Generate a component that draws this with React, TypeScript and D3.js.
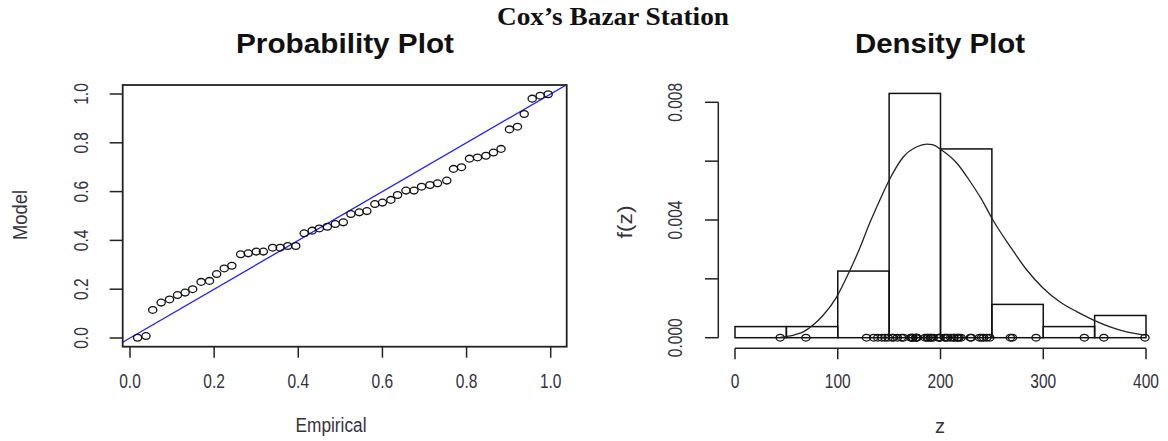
import React from "react";
import * as d3 from "d3";

// ---- data ----
const empirical = [0.018,0.038,0.054,0.074,0.094,0.113,0.131,0.149,0.169,0.189,0.206,0.224,0.242,0.263,0.281,0.300,0.317,0.339,0.357,0.375,0.394,0.414,0.433,0.450,0.469,0.488,0.507,0.525,0.545,0.563,0.582,0.600,0.620,0.636,0.656,0.675,0.693,0.713,0.731,0.753,0.769,0.788,0.807,0.826,0.846,0.864,0.882,0.902,0.921,0.937,0.956,0.975,0.994];
const model = [0.001,0.008,0.115,0.145,0.158,0.176,0.186,0.200,0.230,0.234,0.262,0.285,0.296,0.343,0.347,0.354,0.354,0.370,0.370,0.377,0.377,0.429,0.440,0.449,0.456,0.467,0.474,0.508,0.515,0.520,0.549,0.555,0.566,0.586,0.604,0.604,0.620,0.627,0.634,0.645,0.693,0.700,0.735,0.740,0.747,0.760,0.775,0.855,0.866,0.918,0.981,0.993,0.999];
const zData = [44,69,128,135,139,143,146,149,153,154,158,162,164,171,172,173,173,176,176,177,177,185,187,188,190,191,193,198,199,199.5,204,205,207,210,213,213,216,217,218,220,229,230,238,240,242,245,248,268,270,293,340,359,399];
const histBreaks = [0,50,100,150,200,250,300,350,400];
const densZ = [44,58,66.5,76,86,99,112,122,131,141,151,164,177,186.6,193,201,216,229,240,251,268,284,300,316,333,349,365,381,400];
const densF = [0.00001,0.0001,0.0002,0.00043,0.00077,0.00139,0.0023,0.00309,0.00389,0.00468,0.00542,0.00615,0.00649,0.00658,0.00655,0.00638,0.00593,0.0053,0.0047,0.004,0.00309,0.0023,0.00168,0.00122,0.00088,0.0006,0.00037,0.0002,0.00009];
const ppTicks = [0,0.2,0.4,0.6,0.8,1.0];
const densXTicks = [0,100,200,300,400];
const densYTicks = [0,0.002,0.004,0.006,0.008];
const densYLabels = [0,0.004,0.008];

const mainTitle = "Cox\u2019s Bazar Station";
const ppTitle = "Probability Plot";
const densTitle = "Density Plot";

const W = 1168, H = 441;
const LAB = "#34323f";
const SANS = "'Liberation Sans', Arial, sans-serif";

function T({ x, y, rot = 0, sx = 1, fs, text, fill = LAB, weight = "normal", family = SANS, anchor = "middle", len }: any) {
  return (
    <text
      transform={`translate(${x},${y}) rotate(${rot}) scale(${sx},1)`}
      fontSize={fs}
      fontFamily={family}
      fontWeight={weight}
      fill={fill}
      textAnchor={anchor}
      textLength={len}
      lengthAdjust={len ? "spacingAndGlyphs" : undefined}
    >
      {text}
    </text>
  );
}

export default function App() {
  // ---- left panel (probability plot) ----
  const box = { x0: 122.7, x1: 566.7, y0: 85, y1: 346.7 };
  const px = d3.scaleLinear().domain([0, 1]).range([130, 550.7]);
  const py = d3.scaleLinear().domain([0, 1]).range([338, 94]);
  const lo = px.invert(box.x0), hi = px.invert(box.x1);

  // ---- right panel (density plot) ----
  const dx = d3.scaleLinear().domain([0, 400]).range([735, 1146]);
  const dy = d3.scaleLinear().domain([0, 0.008]).range([337.7, 102.3]);
  const n = zData.length;
  const bins = histBreaks.slice(0, -1).map((a, i) => {
    const b = histBreaks[i + 1];
    const c = zData.filter((z) => (i === 0 ? z >= a : z > a) && z <= b).length;
    return { a, b, d: c / (n * (b - a)) };
  });
  const densLine = d3
    .line<number>()
    .x((_, i) => dx(densZ[i]))
    .y((_, i) => dy(densF[i]))
    .curve(d3.curveMonotoneX)(densZ);

  const tickFs = 21, tickSx = 0.74;
  const axisY = 348.3;

  return (
    <svg width={W} height={H} style={{ position: "absolute", left: 0, top: 0, background: "#fff" }}>
      <defs>
        <clipPath id="ppclip">
          <rect x={box.x0} y={box.y0} width={box.x1 - box.x0} height={box.y1 - box.y0} />
        </clipPath>
      </defs>
      <rect x={0} y={0} width={W} height={H} fill="#fff" />

      {/* titles */}
      <T x={613} y={25} fs={26} text={mainTitle} fill="#111" weight="bold" family="'Liberation Serif', 'Times New Roman', serif" len={232} />
      <T x={345} y={53} fs={27} text={ppTitle} fill="#111" weight="bold" len={218} />
      <T x={940} y={53} fs={27} text={densTitle} fill="#111" weight="bold" len={170} />

      {/* ---- probability plot ---- */}
      <line
        x1={px(lo)} y1={py(lo)} x2={px(hi)} y2={py(hi)}
        stroke="#1f1fff" strokeWidth={1.3} clipPath="url(#ppclip)"
      />
      {empirical.map((e, i) => (
        <ellipse key={i} cx={px(e)} cy={py(model[i])} rx={4.1} ry={3.4} fill="none" stroke="#111" strokeWidth={1.3} />
      ))}
      <rect x={box.x0} y={box.y0} width={box.x1 - box.x0} height={box.y1 - box.y0} fill="none" stroke="#222" strokeWidth={1.8} />
      {ppTicks.map((t) => (
        <g key={"px" + t}>
          <line x1={px(t)} x2={px(t)} y1={box.y1} y2={box.y1 + 11} stroke="#222" strokeWidth={1.5} />
          <T x={px(t)} y={388} fs={tickFs} sx={tickSx} text={t.toFixed(1)} />
        </g>
      ))}
      {ppTicks.map((t) => (
        <g key={"py" + t}>
          <line x1={box.x0 - 13} x2={box.x0} y1={py(t)} y2={py(t)} stroke="#222" strokeWidth={1.5} />
          <T x={88} y={py(t)} rot={-90} fs={tickFs} sx={tickSx} text={t.toFixed(1)} />
        </g>
      ))}
      <T x={331} y={432} fs={20} text="Empirical" len={71} />
      <T x={27} y={215} rot={-90} fs={20} text="Model" len={50} />

      {/* ---- density plot ---- */}
      {bins.map((b, i) => (
        <rect key={i} x={dx(b.a)} y={dy(b.d)} width={dx(b.b) - dx(b.a)} height={dy(0) - dy(b.d)} fill="none" stroke="#111" strokeWidth={1.5} />
      ))}
      {zData.map((z, i) => (
        <ellipse key={i} cx={dx(z)} cy={dy(0)} rx={4.1} ry={3.4} fill="none" stroke="#111" strokeWidth={1.3} />
      ))}
      <path d={densLine || ""} fill="none" stroke="#222" strokeWidth={1.3} />
      <line x1={dx(0)} x2={dx(400)} y1={axisY} y2={axisY} stroke="#222" strokeWidth={1.5} />
      {densXTicks.map((t) => (
        <g key={"dx" + t}>
          <line x1={dx(t)} x2={dx(t)} y1={axisY} y2={axisY + 11} stroke="#222" strokeWidth={1.5} />
          <T x={dx(t)} y={388} fs={tickFs} sx={tickSx} text={String(t)} />
        </g>
      ))}
      <line x1={718.3} x2={718.3} y1={dy(0)} y2={dy(0.008)} stroke="#222" strokeWidth={1.5} />
      {densYTicks.map((t) => (
        <line key={"dy" + t} x1={705} x2={718.3} y1={dy(t)} y2={dy(t)} stroke="#222" strokeWidth={1.5} />
      ))}
      {densYLabels.map((t) => (
        <T key={"dl" + t} x={682} y={dy(t)} rot={-90} fs={tickFs} sx={tickSx} text={t.toFixed(3)} />
      ))}
      <T x={940} y={433} fs={20} text="z" />
      <T x={632} y={222} rot={-90} fs={20} text="f(z)" len={33} />
    </svg>
  );
}
